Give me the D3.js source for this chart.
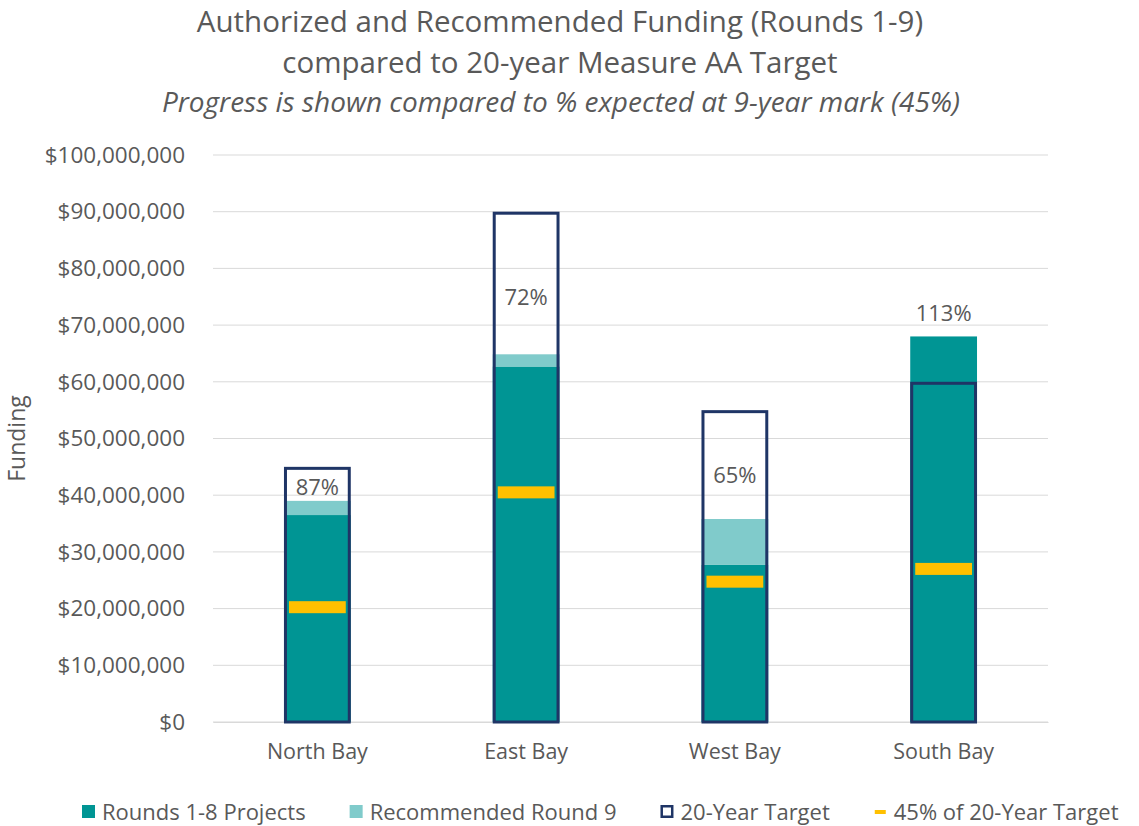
<!DOCTYPE html>
<html>
<head>
    <meta charset="utf-8">
    <title>Measure AA Funding</title>
    <script src="https://d3js.org/d3.v7.min.js"></script>
    <style>
        body {
            margin: 0;
            background: #fff;
        }

        text {
            font-family: "Open Sans", "Roboto", sans-serif;
            fill: #595959;
        }

        .grid line {
            stroke: #d9d9d9;
        }
    </style>
</head>
<body>
    <svg id="chart" width="1139" height="826"></svg>
    <script>

        // data (dollars)
        const regions = ["North Bay", "East Bay", "West Bay", "South Bay"];
        const rounds18 = [36500000, 62700000, 27700000, 68000000];
        const round9 = [2500000, 2150000, 8100000, 0];
        const targets = [45000000, 90000000, 55000000, 60000000];
        const pctLabels = ["87%", "72%", "65%", "113%"];
        const yTicks = [0, 10e6, 20e6, 30e6, 40e6, 50e6, 60e6, 70e6, 80e6, 90e6, 100e6];
        const legendItems = ["Rounds 1-8 Projects", "Recommended Round 9", "20-Year Target", "45% of 20-Year Target"];

        const teal = "#009594";
        const lightTeal = "#80cbcb";
        const navy = "#1f3566";
        const gold = "#ffc000";

        const svg = d3.select("#chart");

        const plotLeft = 213, plotRight = 1048, plotTop = 155, plotBottom = 722;

        const x = d3.scaleBand()
            .domain(regions)
            .range([plotLeft, plotRight])
            .paddingInner(0.68)
            .paddingOuter(0.34);

        const y = d3.scaleLinear()
            .domain([0, 100e6])
            .range([plotBottom, plotTop]);

        // titles
        svg.append("text")
            .attr("x", 560).attr("y", 32)
            .attr("text-anchor", "middle")
            .style("font-size", "29.5px")
            .text("Authorized and Recommended Funding (Rounds 1-9)");
        svg.append("text")
            .attr("x", 560).attr("y", 73)
            .attr("text-anchor", "middle")
            .style("font-size", "29.5px")
            .text("compared to 20-year Measure AA Target");
        svg.append("text")
            .attr("x", 561).attr("y", 112)
            .attr("text-anchor", "middle")
            .style("font-size", "28px")
            .style("font-style", "italic")
            .text("Progress is shown compared to % expected at 9-year mark (45%)");

        // gridlines
        svg.append("g")
            .attr("class", "grid")
            .selectAll("line")
            .data(yTicks)
            .join("line")
            .attr("x1", plotLeft).attr("x2", plotRight)
            .attr("y1", d => y(d)).attr("y2", d => y(d));

        // y axis
        const yAxis = svg.append("g")
            .attr("transform", `translate(${plotLeft},0)`)
            .call(d3.axisLeft(y).tickValues(yTicks).tickFormat(d3.format("$,")).tickSize(0).tickPadding(28));
        yAxis.select(".domain").remove();
        yAxis.selectAll("text").style("font-size", "22.5px").attr("fill", "#595959");

        svg.append("text")
            .attr("transform", `translate(25,${(plotTop + plotBottom) / 2}) rotate(-90)`)
            .attr("text-anchor", "middle")
            .style("font-size", "23px")
            .text("Funding");

        // x axis labels
        const xAxis = svg.append("g")
            .attr("transform", `translate(0,${plotBottom})`)
            .call(d3.axisBottom(x).tickSize(0).tickPadding(22));
        xAxis.select(".domain").attr("stroke", "#d9d9d9");
        xAxis.selectAll("text").style("font-size", "21.5px").attr("fill", "#595959");

        const bars = regions.map((r, i) => ({
            region: r, r18: rounds18[i], r9: round9[i], target: targets[i], label: pctLabels[i]
        }));

        // stacked bars
        svg.append("g").selectAll("rect")
            .data(bars)
            .join("rect")
            .attr("x", d => x(d.region))
            .attr("width", x.bandwidth())
            .attr("y", d => y(d.r18))
            .attr("height", d => y(0) - y(d.r18))
            .attr("fill", teal);

        svg.append("g").selectAll("rect")
            .data(bars)
            .join("rect")
            .attr("x", d => x(d.region))
            .attr("width", x.bandwidth())
            .attr("y", d => y(d.r18 + d.r9))
            .attr("height", d => y(d.r18) - y(d.r18 + d.r9))
            .attr("fill", lightTeal);

        // 20-year target outline
        svg.append("g").selectAll("rect")
            .data(bars)
            .join("rect")
            .attr("x", d => x(d.region) + 1.5)
            .attr("width", x.bandwidth() - 3)
            .attr("y", d => y(d.target) + 1.5)
            .attr("height", d => y(0) - y(d.target) - 1.5)
            .attr("fill", "none")
            .attr("stroke", navy)
            .attr("stroke-width", 3);

        // 45% marker
        svg.append("g").selectAll("rect")
            .data(bars)
            .join("rect")
            .attr("x", d => x(d.region) + 5)
            .attr("width", x.bandwidth() - 10)
            .attr("y", d => y(d.target * 0.45) - 6)
            .attr("height", 12)
            .attr("fill", gold);

        // percent labels
        svg.append("g").selectAll("text")
            .data(bars)
            .join("text")
            .attr("x", d => x(d.region) + x.bandwidth() / 2)
            .attr("y", d => {
                const total = d.r18 + d.r9;
                if (total > d.target) return y(total) - 15;
                return y(d.target - 0.6 * (d.target - total)) + 8;
            })
            .attr("text-anchor", "middle")
            .style("font-size", "22px")
            .text(d => d.label);

        // legend, laid out left to right
        const legend = svg.append("g").attr("transform", "translate(82,812)");
        let lx = 0;
        legendItems.forEach((d, i) => {
            const g = legend.append("g").attr("transform", `translate(${lx},0)`);
            if (i === 0 || i === 1) {
                g.append("rect").attr("x", 0).attr("y", -7).attr("width", 13).attr("height", 13)
                    .attr("fill", i === 0 ? teal : lightTeal);
            } else if (i === 2) {
                g.append("rect").attr("x", 1.25).attr("y", -5.75).attr("width", 10.5).attr("height", 10.5)
                    .attr("fill", "none").attr("stroke", navy).attr("stroke-width", 2.5);
            } else {
                g.append("rect").attr("x", 1).attr("y", -2).attr("width", 11).attr("height", 4)
                    .attr("fill", gold);
            }
            const t = g.append("text")
                .attr("x", 20)
                .attr("y", 7.5)
                .style("font-size", "22px")
                .text(d);
            lx += 20 + t.node().getComputedTextLength() + 44;
        });

    </script>
</body>
</html>
